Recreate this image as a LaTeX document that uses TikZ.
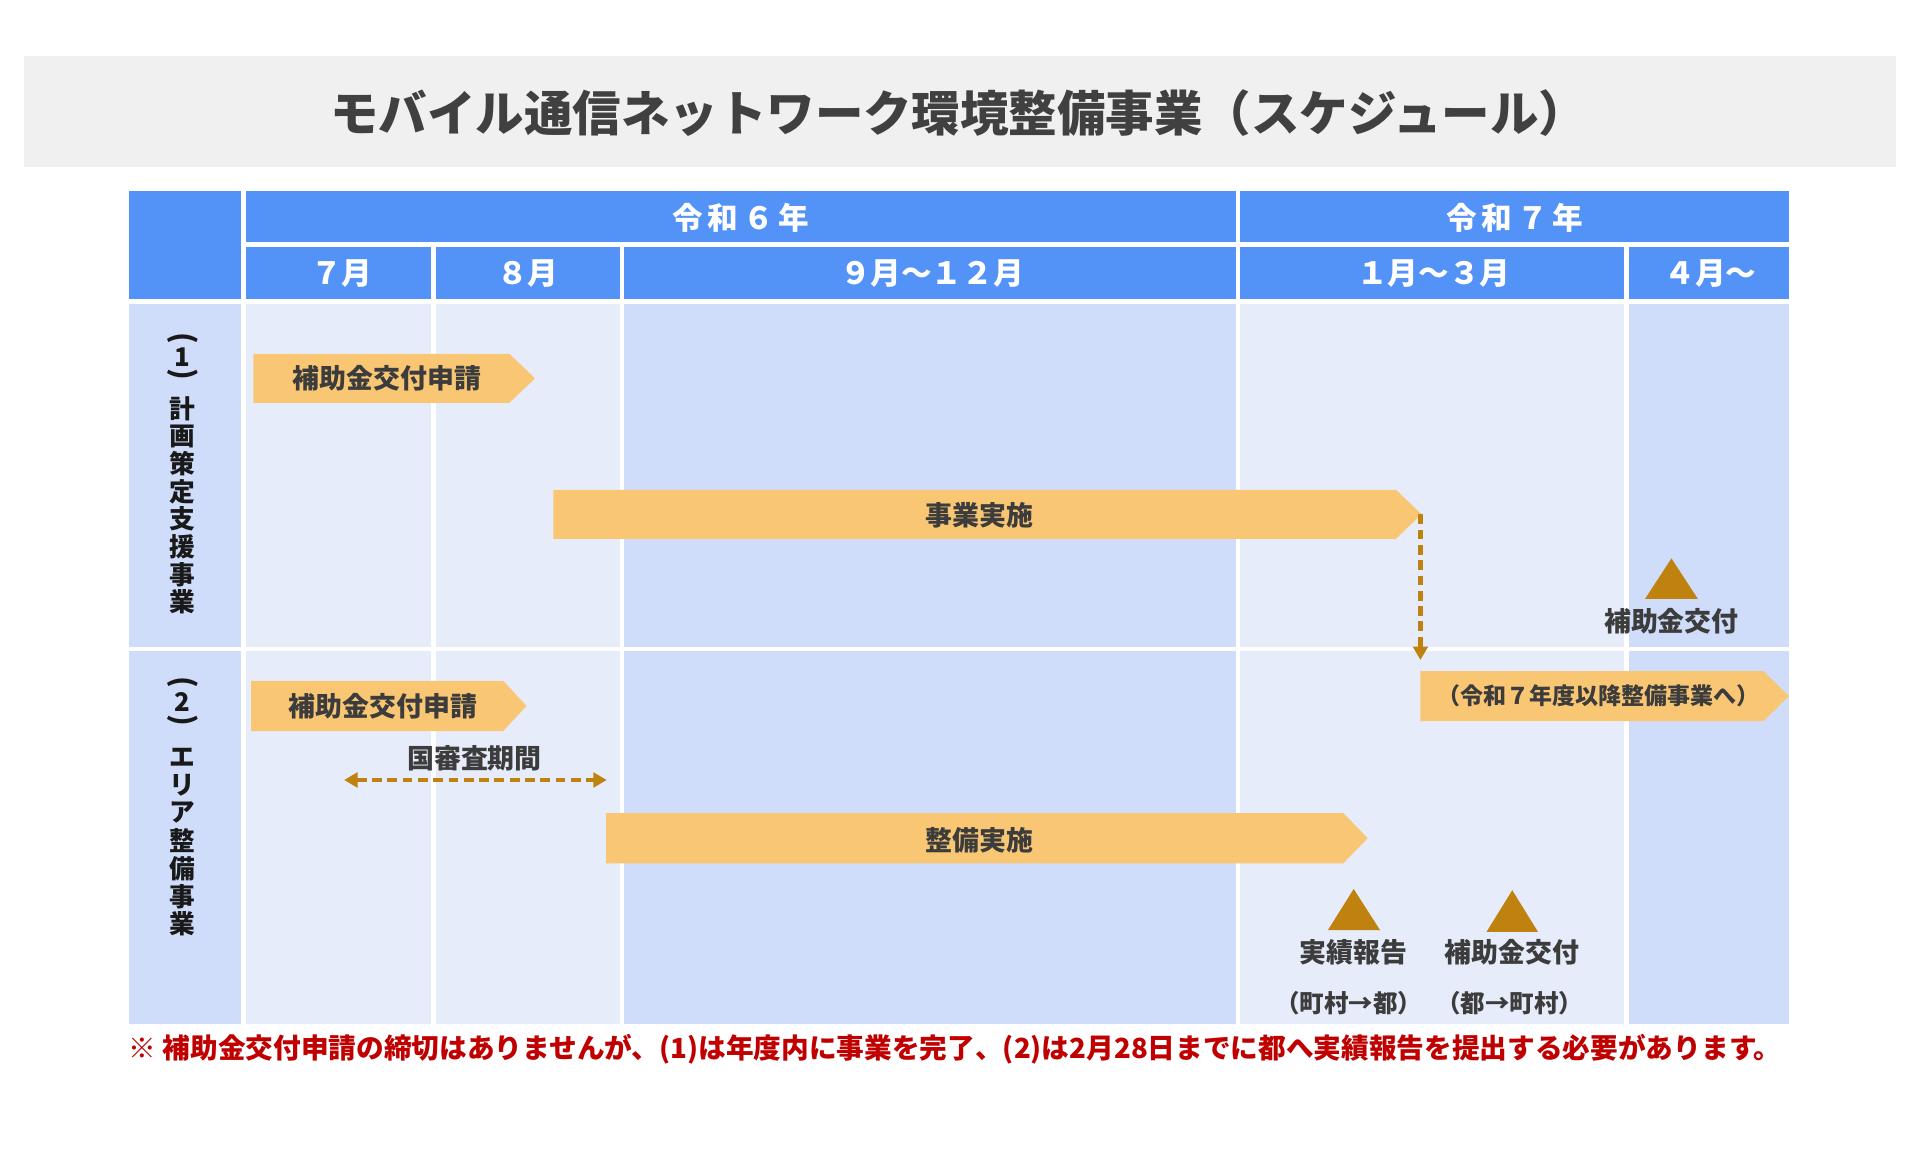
\documentclass[tikz,border=0pt]{standalone}
\usepackage{fontspec}
\setmainfont{Noto Sans CJK JP}
\usetikzlibrary{arrows.meta}
\definecolor{hdrblue}{HTML}{5392F6}
\definecolor{lblue}{HTML}{CFDCFA}
\definecolor{lav}{HTML}{E7ECFB}
\definecolor{barfill}{HTML}{F9C774}
\definecolor{mkbrown}{HTML}{C0820E}
\definecolor{txt}{HTML}{3C3C3C}
\definecolor{ttl}{HTML}{404040}
\definecolor{note}{HTML}{C00000}
\definecolor{ttlbg}{HTML}{F0F0F0}
\newcommand\mkbar[5]{\fill[barfill] (#1,#4) -- (#2,#4) -- (#3,{(#4+#5)/2}) -- (#2,#5) -- (#1,#5) -- cycle;}
\newcommand\hsp{\hspace{4pt}}
\begin{document}
\begin{tikzpicture}[x=1pt,y=-1pt,
  hdr/.style={text=white,font=\fontsize{25}{25}\selectfont\bfseries,inner sep=0pt},
  lbl/.style={text=txt,font=\fontsize{22}{22}\selectfont\bfseries,inner sep=0pt},
  sml/.style={text=txt,font=\fontsize{20}{20}\selectfont\bfseries,inner sep=0pt},
  vt/.style={text=black!90,font=\fontsize{21}{21}\selectfont\bfseries,inner sep=0pt},
  vp/.style={text=black!90,font=\fontsize{24}{24}\selectfont\bfseries,inner sep=0pt,rotate=-90},
  dasharrow/.style={mkbrown,line width=3.5pt,dash pattern=on 8pt off 4.5pt},
  tip/.style={-{Triangle[width=12pt,length=11pt]}}
]
\useasboundingbox (0,0) rectangle (1568,952);
\fill[white] (0,0) rectangle (1568,952);
% title
\fill[ttlbg] (20,46) rectangle (1548,136);
\node[text=ttl,font=\fontsize{39.6}{40}\selectfont\bfseries,inner sep=0pt] (title) at (783,92) {モバイル通信ネットワーク環境整備事業（スケジュール）};
% header
\fill[hdrblue] (105,156) rectangle (197,244);
\fill[hdrblue] (201,156) rectangle (1009,198);
\fill[hdrblue] (1013,156) rectangle (1461,198);
\fill[hdrblue] (201,202) rectangle (352,244);
\fill[hdrblue] (356,202) rectangle (506,244);
\fill[hdrblue] (510,202) rectangle (1009,244);
\fill[hdrblue] (1013,202) rectangle (1326,244);
\fill[hdrblue] (1330,202) rectangle (1461,244);
\node[hdr] (y6) at (605,178) {令\hsp 和\hsp ６\hsp 年};
\node[hdr] (y7) at (1237,178) {令\hsp 和\hsp ７\hsp 年};
\node[hdr] (m7) at (279,223) {７月};
\node[hdr] (m8) at (431,223) {８月};
\node[hdr] (m9) at (761,223) {９月～１２月};
\node[hdr] (m1) at (1171,223) {１月～３月};
\node[hdr] (m4) at (1397,223) {４月～};
% body cells
\foreach \ya/\yb in {248/528, 532/836} {
  \fill[lblue] (105,\ya) rectangle (197,\yb);
  \fill[lav] (201,\ya) rectangle (352,\yb);
  \fill[lav] (356,\ya) rectangle (506,\yb);
  \fill[lblue] (510,\ya) rectangle (1009,\yb);
  \fill[lav] (1013,\ya) rectangle (1326,\yb);
  \fill[lblue] (1330,\ya) rectangle (1461,\yb);
}
% vertical labels
\node[vp] (pa1) at (149,276) {(};
\node[vt] (pn1) at (149,292) {1};
\node[vp] (pb1) at (149,306) {)};
\foreach \ch [count=\i] in {計,画,策,定,支,援,事,業}
  \node[vt] (va\i) at (149,{333.5+22.6*(\i-1)}) {\ch};
\node[vp] (pa2) at (149,557.5) {(};
\node[vt] (pn2) at (149,573) {2};
\node[vp] (pb2) at (149,588) {)};
\foreach \ch [count=\i] in {エ,リ,ア,整,備,事,業}
  \node[vt] (vb\i) at (149,{618.5+22.7*(\i-1)}) {\ch};
% bars
\mkbar{207}{416}{437}{289}{329}
\node[lbl] (b1) at (316,309) {補助金交付申請};
\mkbar{452}{1140}{1161}{400}{440}
\node[lbl] (b2) at (800,421) {事業実施};
\mkbar{205}{411}{430}{556}{597}
\node[lbl] (b3) at (313,577) {補助金交付申請};
\mkbar{495}{1097}{1117}{664}{705}
\node[lbl] (b4) at (800,686) {整備実施};
\mkbar{1160}{1440}{1461}{548}{589}
\node[text=txt,font=\fontsize{18.8}{19}\selectfont\bfseries,inner sep=0pt] (b5) at (1305.5,568) {（令和７年度以降整備事業へ）};
% dashed arrows
\coordinate (b2tip) at (1160,420);
\coordinate (b5in) at (1160,539);
\draw[dasharrow,tip] (b2tip) -- (b5in);
\coordinate (rvA) at (281,637);
\coordinate (rvB) at (495.5,637);
\draw[dasharrow,{Triangle[width=12pt,length=11pt]}-{Triangle[width=12pt,length=11pt]}] (rvA) -- (rvB);
\node[lbl] (rv) at (387.5,619.5) {国審査期間};
% milestones
\fill[mkbrown] (1365,456) -- (1386.5,489) -- (1343.5,489) -- cycle;
\node[lbl] (g1) at (1365,507.5) {補助金交付};
\fill[mkbrown] (1105.5,726) -- (1127,759.5) -- (1084.5,759.5) -- cycle;
\node[lbl] (r2) at (1105.5,778) {実績報告};
\node[sml] (r2s) at (1101.5,819) {（町村→都）};
\fill[mkbrown] (1235,727) -- (1256,761) -- (1214,761) -- cycle;
\node[lbl] (g2) at (1235,778) {補助金交付};
\node[sml] (g2s) at (1233,819) {（都→町村）};
% footnote
\node[text=note,font=\fontsize{22.6}{23}\selectfont\bfseries,inner sep=0pt,anchor=west] (note) at (105,857) {※ 補助金交付申請の締切はありませんが、(1)は年度内に事業を完了、(2)は2月28日までに都へ実績報告を提出する必要があります。};
\end{tikzpicture}
\end{document}
